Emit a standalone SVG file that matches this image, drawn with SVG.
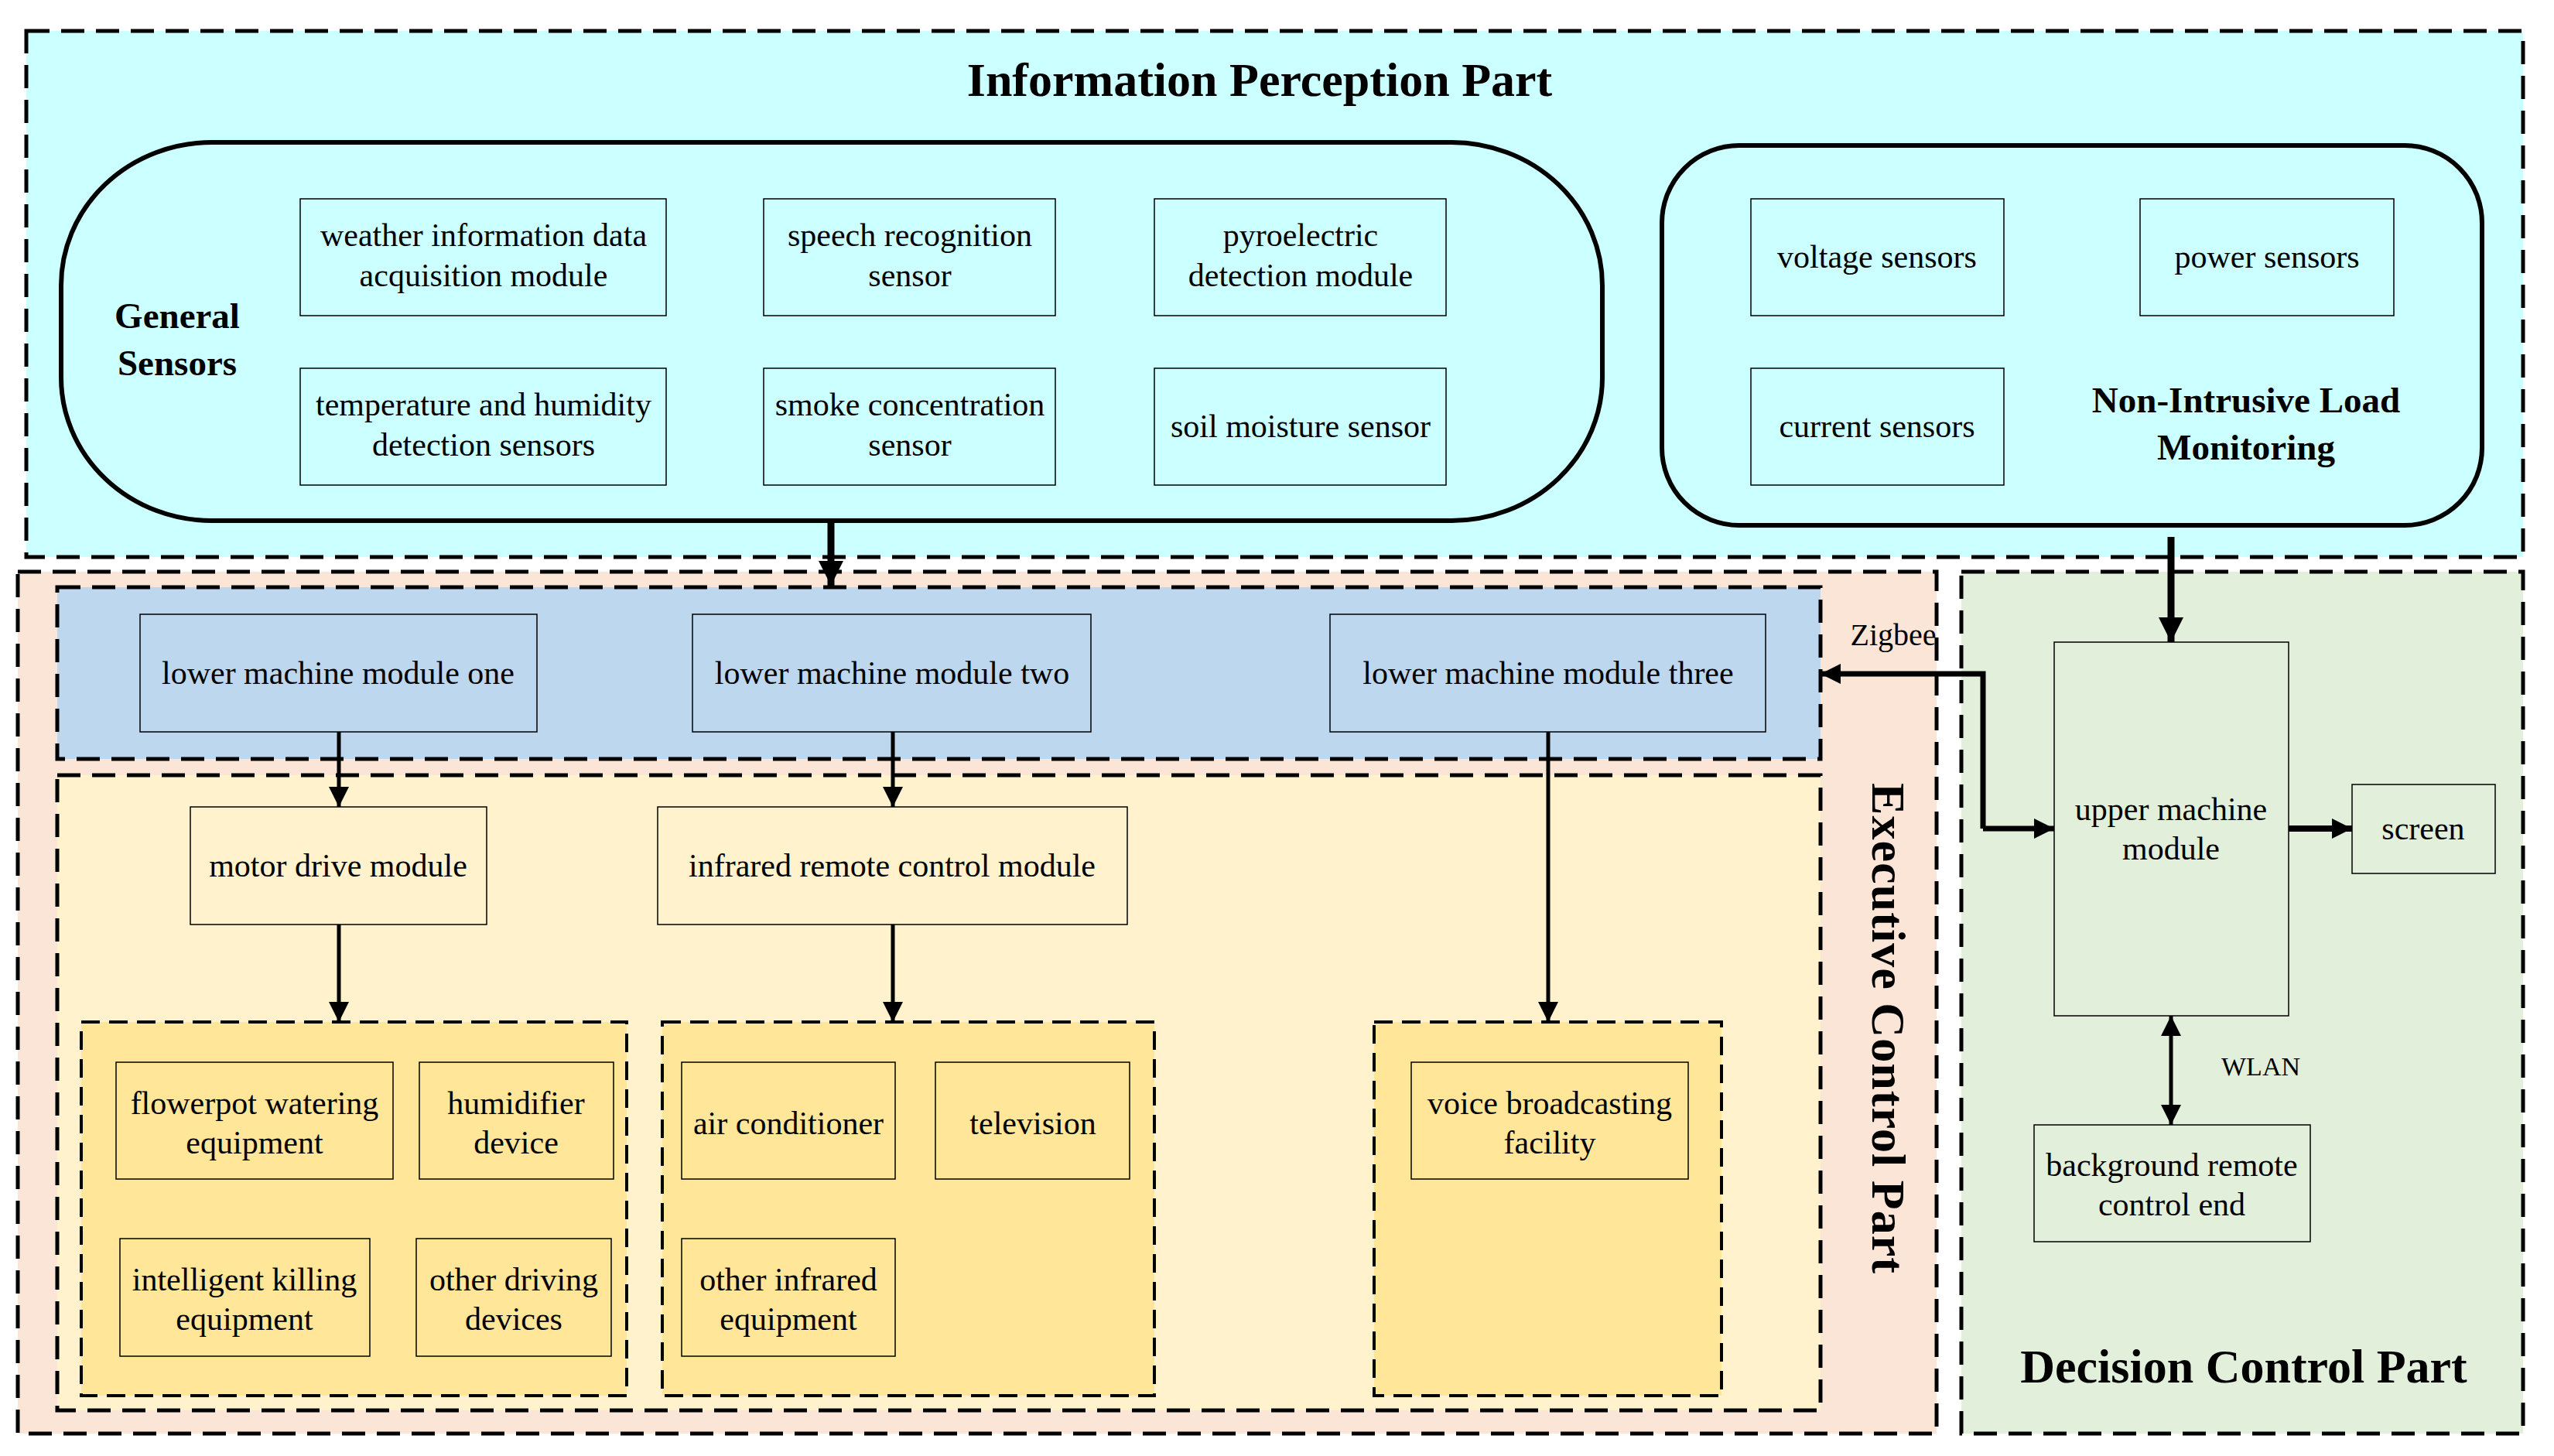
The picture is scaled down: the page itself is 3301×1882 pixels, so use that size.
<svg xmlns="http://www.w3.org/2000/svg" width="3301" height="1882" viewBox="0 0 3301 1882">
<style>
text{font-family:"Liberation Serif","Times New Roman",serif;fill:#000;text-anchor:middle}
.t{font-size:42px}
.b{font-size:47px;font-weight:bold}
.h{font-size:62px;font-weight:bold}
.box{stroke:#000;stroke-width:1.5}
.dash{stroke:#000;stroke-width:5;stroke-dasharray:30 15}
.dash2{stroke:#000;stroke-width:4;stroke-dasharray:24 12}
.cn{fill:none;stroke:#000}
</style>
<defs>
<marker id="ah" viewBox="0 0 10 10" refX="10" refY="5" markerWidth="5" markerHeight="5" orient="auto-start-reverse" markerUnits="userSpaceOnUse">
<path d="M0,0 L10,5 L0,10 z" fill="#000"/></marker>
<marker id="a1" viewBox="0 0 10 10" refX="10" refY="5" markerWidth="28" markerHeight="26" orient="auto-start-reverse" markerUnits="userSpaceOnUse"><path d="M0,0 L10,5 L0,10 z" fill="#000"/></marker>
<marker id="a2" viewBox="0 0 10 10" refX="10" refY="5" markerWidth="36" markerHeight="32" orient="auto-start-reverse" markerUnits="userSpaceOnUse"><path d="M0,0 L10,5 L0,10 z" fill="#000"/></marker>
</defs>
<rect width="3301" height="1882" fill="#fff"/>

<g id="perception">
<rect x="34" y="40" width="3227" height="680" fill="#CCFFFF" class="dash"/>
<text class="h" x="1628" y="124">Information Perception Part</text>
</g>
<g id="general">
<rect x="79" y="184" width="1992" height="489" rx="195" ry="185" fill="#CCFFFF" stroke="#000" stroke-width="6"/>
<text class="b" x="229" y="424">General</text>
<text class="b" x="229" y="485">Sensors</text>
</g>
<g id="weather"><rect x="388" y="257" width="473" height="151" fill="none" class="box"/><text class="t" x="625" y="318">weather information data</text><text class="t" x="625" y="370">acquisition module</text></g>
<g id="speech"><rect x="987" y="257" width="377" height="151" fill="none" class="box"/><text class="t" x="1176" y="318">speech recognition</text><text class="t" x="1176" y="370">sensor</text></g>
<g id="pyro"><rect x="1492" y="257" width="377" height="151" fill="none" class="box"/><text class="t" x="1681" y="318">pyroelectric</text><text class="t" x="1681" y="370">detection module</text></g>
<g id="temp"><rect x="388" y="476" width="473" height="151" fill="none" class="box"/><text class="t" x="625" y="537">temperature and humidity</text><text class="t" x="625" y="589">detection sensors</text></g>
<g id="smoke"><rect x="987" y="476" width="377" height="151" fill="none" class="box"/><text class="t" x="1176" y="537">smoke concentration</text><text class="t" x="1176" y="589">sensor</text></g>
<g id="soil"><rect x="1492" y="476" width="377" height="151" fill="none" class="box"/><text class="t" x="1681" y="565">soil moisture sensor</text></g>

<g id="nilm">
<rect x="2148" y="188" width="1060" height="491" rx="100" ry="100" fill="#CCFFFF" stroke="#000" stroke-width="6"/>
<text class="b" x="2903" y="533">Non-Intrusive Load</text>
<text class="b" x="2903" y="594">Monitoring</text>
</g>
<g id="voltage"><rect x="2263" y="257" width="327" height="151" fill="none" class="box"/><text class="t" x="2426" y="346">voltage sensors</text></g>
<g id="power"><rect x="2766" y="257" width="328" height="151" fill="none" class="box"/><text class="t" x="2930" y="346">power sensors</text></g>
<g id="current"><rect x="2263" y="476" width="327" height="151" fill="none" class="box"/><text class="t" x="2426" y="565">current sensors</text></g>

<g id="executive">
<rect x="23" y="739" width="2480" height="1114" fill="#FBE5D6" class="dash"/>
<text class="h" transform="translate(2420,1329) rotate(90)" x="0" y="0" textLength="634" lengthAdjust="spacing">Executive Control Part</text>
</g>
<g id="lowerArea"><rect x="74" y="759" width="2279" height="222" fill="#BDD7EE" class="dash"/></g>
<g id="lower1"><rect x="181" y="794" width="513" height="152" fill="none" class="box"/><text class="t" x="437" y="884">lower machine module one</text></g>
<g id="lower2"><rect x="895" y="794" width="515" height="152" fill="none" class="box"/><text class="t" x="1153" y="884">lower machine module two</text></g>
<g id="lower3"><rect x="1719" y="794" width="563" height="152" fill="none" class="box"/><text class="t" x="2001" y="884">lower machine module three</text></g>

<g id="driveArea"><rect x="74" y="1002" width="2279" height="821" fill="#FFF2CC" class="dash"/></g>
<g id="motor"><rect x="246" y="1043" width="383" height="152" fill="none" class="box"/><text class="t" x="437" y="1133">motor drive module</text></g>
<g id="infrared"><rect x="850" y="1043" width="607" height="152" fill="none" class="box"/><text class="t" x="1153" y="1133">infrared remote control module</text></g>

<g id="group1"><rect x="105" y="1321" width="705" height="483" fill="#FFE699" class="dash2"/></g>
<g id="flowerpot"><rect x="150" y="1373" width="358" height="151" fill="none" class="box"/><text class="t" x="329" y="1440">flowerpot watering</text><text class="t" x="329" y="1491">equipment</text></g>
<g id="humidifier"><rect x="542" y="1373" width="251" height="151" fill="none" class="box"/><text class="t" x="667" y="1440">humidifier</text><text class="t" x="667" y="1491">device</text></g>
<g id="killing"><rect x="155" y="1601" width="323" height="152" fill="none" class="box"/><text class="t" x="316" y="1668">intelligent killing</text><text class="t" x="316" y="1719">equipment</text></g>
<g id="otherdrive"><rect x="538" y="1601" width="252" height="152" fill="none" class="box"/><text class="t" x="664" y="1668">other driving</text><text class="t" x="664" y="1719">devices</text></g>

<g id="group2"><rect x="856" y="1321" width="636" height="483" fill="#FFE699" class="dash2"/></g>
<g id="aircon"><rect x="881" y="1373" width="276" height="151" fill="none" class="box"/><text class="t" x="1019" y="1466">air conditioner</text></g>
<g id="tv"><rect x="1209" y="1373" width="251" height="151" fill="none" class="box"/><text class="t" x="1335" y="1466">television</text></g>
<g id="otherir"><rect x="881" y="1601" width="276" height="152" fill="none" class="box"/><text class="t" x="1019" y="1668">other infrared</text><text class="t" x="1019" y="1719">equipment</text></g>

<g id="group3"><rect x="1776" y="1321" width="449" height="483" fill="#FFE699" class="dash2"/></g>
<g id="voice"><rect x="1824" y="1373" width="358" height="151" fill="none" class="box"/><text class="t" x="2003" y="1440">voice broadcasting</text><text class="t" x="2003" y="1491">facility</text></g>

<g id="decision">
<rect x="2535" y="739" width="726" height="1114" fill="#E2EFDA" class="dash"/>
<text class="h" x="2900" y="1787">Decision Control Part</text>
</g>
<g id="upper"><rect x="2655" y="830" width="303" height="483" fill="none" class="box"/><text class="t" x="2806" y="1060">upper machine</text><text class="t" x="2806" y="1111">module</text></g>
<g id="screen"><rect x="3040" y="1014" width="185" height="115" fill="none" class="box"/><text class="t" x="3132" y="1085">screen</text></g>
<g id="background"><rect x="2629" y="1454" width="357" height="151" fill="none" class="box"/><text class="t" x="2807" y="1520">background remote</text><text class="t" x="2807" y="1571">control end</text></g>

<g id="connectors">
<path class="cn" stroke-width="9" d="M1074 673 V757" marker-end="url(#a2)"/>
<path class="cn" stroke-width="9" d="M2806 694 V830" marker-end="url(#a2)"/>
<path class="cn" stroke-width="5" d="M438 946 V1043" marker-end="url(#a1)"/>
<path class="cn" stroke-width="5" d="M1154 946 V1043" marker-end="url(#a1)"/>
<path class="cn" stroke-width="5" d="M438 1195 V1321" marker-end="url(#a1)"/>
<path class="cn" stroke-width="5" d="M1154 1195 V1321" marker-end="url(#a1)"/>
<path class="cn" stroke-width="5" d="M2001 946 V1321" marker-end="url(#a1)"/>
<path class="cn" stroke-width="7" d="M2563 1071 V871 H2353" marker-end="url(#a1)"/>
<path class="cn" stroke-width="7" d="M2563 1071 H2655" marker-end="url(#a1)"/>
<path class="cn" stroke-width="8" d="M2958 1071 H3040" marker-end="url(#a1)"/>
<path class="cn" stroke-width="5" d="M2806 1313 V1454" marker-start="url(#a1)" marker-end="url(#a1)"/>
<text class="t" x="2447" y="834" style="font-size:40px">Zigbee</text>
<text class="t" x="2922" y="1390" style="font-size:34px">WLAN</text>
</g>
</svg>
